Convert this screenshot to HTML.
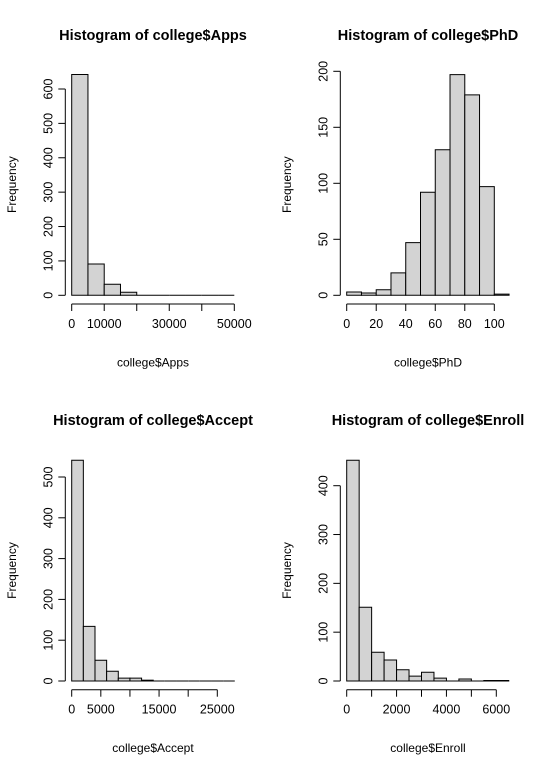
<!DOCTYPE html>
<html><head><meta charset="utf-8"><style>
html,body{margin:0;padding:0;background:#fff;}
svg{display:block;font-family:"Liberation Sans",Arial,sans-serif;}
</style></head><body>
<svg id="chart" width="549" height="772" viewBox="0 0 549 772" xmlns="http://www.w3.org/2000/svg"></svg>
<script>
const appsCounts=[642,91,32,9,0,0,0,0,0,0];
const appsBreaks=[0,5000,10000,15000,20000,25000,30000,35000,40000,45000,50000];
const appsXTicks=[0,10000,20000,30000,40000,50000];
const appsXLabels=["0","10000","","30000","","50000"];
const appsYTicks=[0,100,200,300,400,500,600];

const phdCounts=[3,2,5,20,47,92,130,197,179,97,1];
const phdBreaks=[0,10,20,30,40,50,60,70,80,90,100,110];
const phdXTicks=[0,20,40,60,80,100];
const phdYTicks=[0,50,100,150,200];

const acceptCounts=[541,134,51,24,7,7,2,0,0,0,0,0,0,0];
const acceptBreaks=[0,2000,4000,6000,8000,10000,12000,14000,16000,18000,20000,22000,24000,26000,28000];
const acceptXTicks=[0,5000,10000,15000,20000,25000];
const acceptXLabels=["0","5000","","15000","","25000"];
const acceptYTicks=[0,100,200,300,400,500];

const enrollCounts=[452,151,59,43,23,10,18,6,0,4,0,1,1];
const enrollBreaks=[0,500,1000,1500,2000,2500,3000,3500,4000,4500,5000,5500,6000,6500];
const enrollXTicks=[0,1000,2000,3000,4000,5000,6000];
const enrollXLabels=["0","","2000","","4000","","6000"];
const enrollYTicks=[0,100,200,300,400];

const svg=document.getElementById('chart');
const NS='http://www.w3.org/2000/svg';
function mk(tag,attrs,parent){const e=document.createElementNS(NS,tag);for(const k in attrs)e.setAttribute(k,attrs[k]);parent.appendChild(e);return e;}

function panel(id,title,xlab,counts,breaks,xTicks,xLabels,yTicks,g){
  const grp=mk('g',{},svg);
  
  
  const sx=v=>g.x0+(v-g.xv0)/(g.xv1-g.xv0)*(g.x1-g.x0);
  const sy=v=>g.y0-(v/g.yv1)*(g.y0-g.y1);
  const t=mk('text',{x:153+g.dx,y:g.ty,'text-anchor':'middle','font-size':'14.5','font-weight':'bold',fill:'#000'},grp);
  t.textContent=title;
  
  
  for(let i=0;i<counts.length;i++){
    const xa=sx(breaks[i]),xb=sx(breaks[i+1]),yt=sy(counts[i]);
    const r=mk('path',{d:`M${xa},${g.y0}L${xa},${yt}L${xb},${yt}L${xb},${g.y0}Z`,fill:'#d3d3d3',stroke:'#000','stroke-width':'1'},grp);
    
    
  }
  const xa=mk('g',{},grp);
  
  
  const ay=g.y0+8.7;
  mk('line',{x1:sx(xTicks[0]),x2:sx(xTicks[xTicks.length-1]),y1:ay,y2:ay,stroke:'#000'},xa);
  xTicks.forEach((v,i)=>{
    mk('line',{x1:sx(v),x2:sx(v),y1:ay,y2:ay+7,stroke:'#000'},xa);
    const lab=xLabels?xLabels[i]:String(v);
    if(lab){const tt=mk('text',{x:sx(v),y:ay+24,'text-anchor':'middle','font-size':'12.5',fill:'#000'},xa);tt.textContent=lab;}
  });
  const xl=mk('text',{x:153+g.dx,y:g.y0+71,'text-anchor':'middle','font-size':'12',fill:'#000'},grp);
  xl.textContent=xlab;
  
  
  const ya=mk('g',{},grp);
  
  
  const ax=g.x0-6.4;
  mk('line',{x1:ax,x2:ax,y1:sy(yTicks[0]),y2:sy(yTicks[yTicks.length-1]),stroke:'#000'},ya);
  yTicks.forEach(v=>{
    mk('line',{x1:ax,x2:ax-7,y1:sy(v),y2:sy(v),stroke:'#000'},ya);
    const tt=mk('text',{x:ax-13,y:sy(v),'text-anchor':'middle','font-size':'12.5',fill:'#000',transform:`rotate(-90 ${ax-13} ${sy(v)})`},ya);
    tt.textContent=String(v);
  });
  const yc=(g.y0+g.y1top)/2;
  const yl=mk('text',{x:16+g.dx,y:yc,'text-anchor':'middle','font-size':'12',fill:'#000',transform:`rotate(-90 ${16+g.dx} ${yc})`},grp);
  yl.textContent='Frequency';
  
  
}
panel('apps','Histogram of college$Apps','college$Apps',appsCounts,appsBreaks,appsXTicks,appsXLabels,appsYTicks,
  {dx:0,ty:40,x0:71.7,x1:234.3,xv0:0,xv1:50000,y0:295.3,y1:89,yv1:600,y1top:74});
panel('phd','Histogram of college$PhD','college$PhD',phdCounts,phdBreaks,phdXTicks,null,phdYTicks,
  {dx:275,ty:40,x0:346.7,x1:494.3,xv0:0,xv1:100,y0:295.3,y1:71.3,yv1:200,y1top:74});
panel('accept','Histogram of college$Accept','college$Accept',acceptCounts,acceptBreaks,acceptXTicks,acceptXLabels,acceptYTicks,
  {dx:0,ty:425,x0:71.7,x1:217.3,xv0:0,xv1:25000,y0:681,y1:477,yv1:500,y1top:460});
panel('enroll','Histogram of college$Enroll','college$Enroll',enrollCounts,enrollBreaks,enrollXTicks,enrollXLabels,enrollYTicks,
  {dx:275,ty:425,x0:346.7,x1:496.3,xv0:0,xv1:6000,y0:681,y1:485.7,yv1:400,y1top:460});
</script>
</body></html>
